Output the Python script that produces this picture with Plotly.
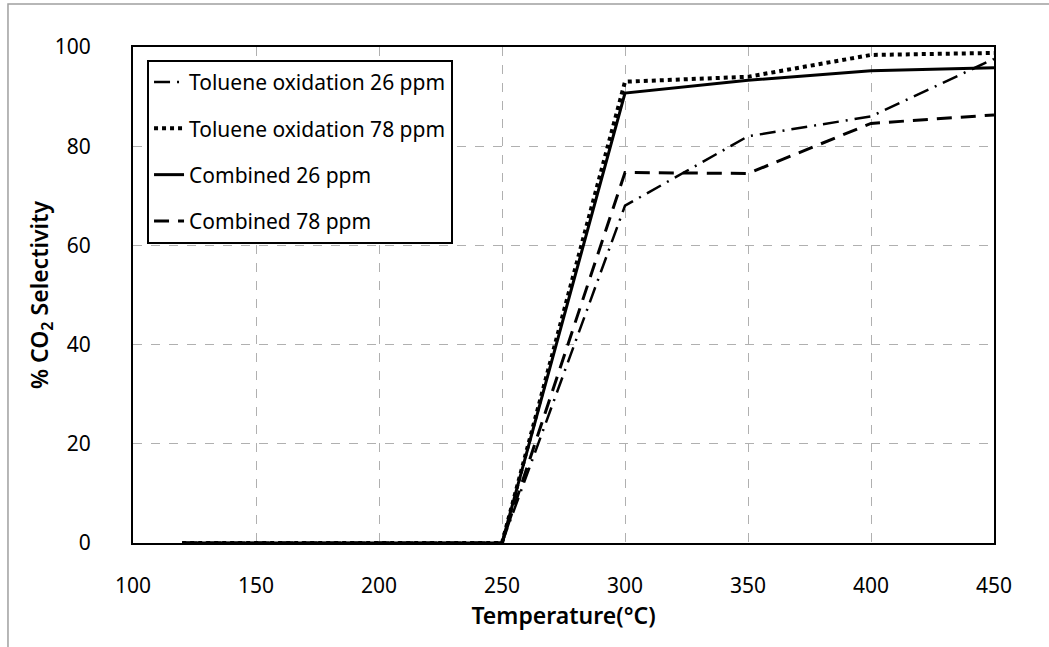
import plotly.graph_objects as go

temps = [120, 150, 200, 250, 300, 350, 400, 450]
toluene_26 = [0, 0, 0, 0, 68.0, 82.0, 86.0, 97.6]
toluene_78 = [0, 0, 0, 0, 93.0, 94.0, 98.4, 98.8]
combined_26 = [0, 0, 0, 0, 90.7, 93.3, 95.2, 95.8]
combined_78 = [0, 0, 0, 0, 74.7, 74.5, 84.6, 86.3]

x_ticks = [100, 150, 200, 250, 300, 350, 400, 450]
y_ticks = [0, 20, 40, 60, 80, 100]

FONT = "Noto Sans"

series = [
    ("Toluene oxidation 26 ppm", toluene_26, "16px,7px,2px,7px", 2.5),
    ("Toluene oxidation 78 ppm", toluene_78, "dot", 4),
    ("Combined 26 ppm", combined_26, "solid", 3),
    ("Combined 78 ppm", combined_78, "15px,9px", 3),
]

fig = go.Figure()
for i, (name, ys, dash, w) in enumerate(series):
    fig.add_trace(go.Scatter(
        x=temps, y=ys, mode="lines", name=name, legendgroup=f"g{i}",
        line=dict(color="black", width=w, dash=dash),
    ))

fig.update_layout(
    width=1049, height=647,
    margin=dict(l=133, r=55, t=47, b=104),
    paper_bgcolor="white", plot_bgcolor="white",
    font=dict(family=FONT, size=21, color="black"),
    showlegend=True,
    legend=dict(
        x=0.0163, y=0.974, xanchor="left", yanchor="top",
        bordercolor="black", borderwidth=2, bgcolor="white",
        font=dict(size=21), traceorder="grouped", tracegroupgap=16,
    ),
    xaxis=dict(
        range=[100, 450], tickvals=x_ticks, ticks="", showline=True,
        linecolor="black", linewidth=2, mirror=True,
        showgrid=True, gridcolor="#b0b0b0", griddash="dash", gridwidth=1,
        zeroline=False, ticklabelstandoff=23,
        tickfont=dict(size=21),
        title=dict(text="Temperature(°C)", font=dict(size=23, weight=600), standoff=10),
    ),
    yaxis=dict(
        range=[0, 100], tickvals=y_ticks, ticks="", showline=True,
        linecolor="black", linewidth=2, mirror=True,
        showgrid=True, gridcolor="#b0b0b0", griddash="dash", gridwidth=1,
        zeroline=False, ticklabelstandoff=36,
        tickfont=dict(size=21),
        title=dict(text="% CO<sub>2</sub> Selectivity", font=dict(size=23, weight=600), standoff=0),
    ),
    shapes=[dict(
        type="rect", xref="paper", yref="paper",
        x0=-0.1452, x1=1.3, y0=-0.4, y1=1.0867,
        line=dict(color="#a0a0a0", width=1.5), fillcolor="rgba(0,0,0,0)", layer="below",
    )],
)

fig.write_html("out.html")
